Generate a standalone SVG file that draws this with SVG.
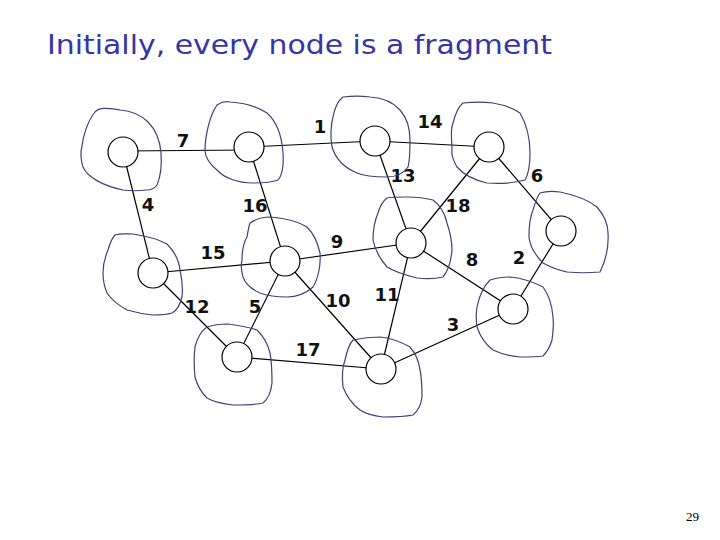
<svg xmlns="http://www.w3.org/2000/svg" width="720" height="540" viewBox="0 0 720 540">
<style>
.blob{fill:none;stroke:#40407a;stroke-width:1.2}
.nd{fill:#fff;stroke:#000;stroke-width:1.2}
.e{stroke:#000;stroke-width:1.2}
.lb{font-family:"DejaVu Sans",sans-serif;font-size:18px;font-weight:bold;fill:#111;text-anchor:middle}
.title{font-family:"DejaVu Sans",sans-serif;font-size:27px;fill:#3535a8}
.pg{font-family:"Liberation Serif",serif;font-size:13px;fill:#000}
</style>
<rect width="720" height="540" fill="#fff"/>
<text class="title" x="47" y="54" textLength="505" lengthAdjust="spacingAndGlyphs">Initially, every node is a fragment</text>
<text class="pg" x="686" y="521">29</text>
<g id="connectors">
<line class="e" x1="123" y1="151" x2="249" y2="150"/>
<line class="e" x1="249" y1="147" x2="375" y2="141"/>
<line class="e" x1="375" y1="141" x2="489" y2="147"/>
<line class="e" x1="123" y1="152" x2="153" y2="273"/>
<line class="e" x1="249" y1="147" x2="285" y2="261"/>
<line class="e" x1="375" y1="141" x2="411" y2="243"/>
<line class="e" x1="489" y1="147" x2="411" y2="243"/>
<line class="e" x1="489" y1="147" x2="561" y2="231"/>
<line class="e" x1="153" y1="273" x2="285" y2="261"/>
<line class="e" x1="285" y1="261" x2="411" y2="243"/>
<line class="e" x1="411" y1="243" x2="513" y2="309"/>
<line class="e" x1="561" y1="231" x2="513" y2="309"/>
<line class="e" x1="153" y1="273" x2="237" y2="357"/>
<line class="e" x1="285" y1="261" x2="237" y2="357"/>
<line class="e" x1="285" y1="261" x2="381" y2="369"/>
<line class="e" x1="411" y1="243" x2="381" y2="369"/>
<line class="e" x1="237" y1="357" x2="381" y2="369"/>
<line class="e" x1="381" y1="369" x2="513" y2="309"/>
</g>
<g id="edge-labels">
<text class="lb" x="183" y="147">7</text>
<text class="lb" x="320" y="133">1</text>
<text class="lb" x="430" y="128">14</text>
<text class="lb" x="148" y="211">4</text>
<text class="lb" x="255" y="212">16</text>
<text class="lb" x="403" y="182">13</text>
<text class="lb" x="458" y="212">18</text>
<text class="lb" x="537" y="182">6</text>
<text class="lb" x="213" y="259">15</text>
<text class="lb" x="337" y="248">9</text>
<text class="lb" x="472" y="266">8</text>
<text class="lb" x="519" y="264">2</text>
<text class="lb" x="197" y="313">12</text>
<text class="lb" x="255" y="313">5</text>
<text class="lb" x="338" y="307">10</text>
<text class="lb" x="308" y="356">17</text>
<text class="lb" x="387" y="301">11</text>
<text class="lb" x="453" y="331">3</text>
</g>
<g id="nA"><path class="blob" d="M95,112 C100,106 112,109 120,110 C132,111 142,116 148,122 C156,130 160,140 161,153 C162,166 160,178 157,185 C153,190 148,190 147,190 C138,191 130,191 123,190 C104,186 88,178 83,167 C80,158 81,150 82,146 C83,137 87,122 95,112 Z"/><circle class="nd" cx="123" cy="152" r="15"/></g>
<g id="nB"><path class="blob" d="M217,105 C221,102 226,101 230,102 C245,103 258,107 267,113 C277,122 282,138 283,153 C284,165 282,176 278,180 C270,183 262,183 253,183 C238,183 224,178 217,170 C209,164 205,156 205,150 C205,141 208,118 217,105 Z"/><circle class="nd" cx="249" cy="147" r="15"/></g>
<g id="nC"><path class="blob" d="M343,97 C352,96 362,96 370,97 C384,98 394,103 400,110 C407,118 410,130 410,140 C410,150 410,160 408,167 C403,174 395,177 387,177 C375,177 364,176 357,173 C345,168 336,160 332,147 C330,137 331,124 333,117 C335,106 339,100 343,97 Z"/><circle class="nd" cx="375" cy="141" r="15"/></g>
<g id="nD"><path class="blob" d="M463,103 C473,102 484,102 493,103 C504,105 513,108 520,113 C527,125 530,140 530,153 C530,165 528,175 525,180 C514,183 500,184 487,183 C474,180 463,174 457,167 C453,160 451,155 452,150 C452,140 450,130 453,123 C455,115 458,107 463,103 Z"/><circle class="nd" cx="489" cy="147" r="15"/></g>
<g id="nE"><path class="blob" d="M540,193 C546,191 553,191 560,192 C575,195 588,200 597,207 C604,215 608,225 608,233 C609,248 605,262 600,272 C589,273 578,273 567,272 C558,270 550,267 543,263 C535,255 530,246 529,237 C529,227 530,217 533,210 C535,203 537,197 540,193 Z"/><circle class="nd" cx="561" cy="231" r="15"/></g>
<g id="nF"><path class="blob" d="M387,198 C393,197 400,197 407,197 C416,197 425,198 433,200 C441,206 445,214 447,223 C450,232 452,242 452,250 C451,262 448,271 443,277 C435,279 426,279 417,278 C405,275 395,272 387,267 C380,259 375,250 373,240 C373,230 375,220 378,213 C380,206 383,201 387,198 Z"/><circle class="nd" cx="411" cy="243" r="15"/></g>
<g id="nG"><path class="blob" d="M250,223 C256,219 263,217 270,217 C284,218 297,221 307,227 C314,234 318,244 320,253 C321,265 318,279 313,287 C305,294 296,297 287,297 C277,297 268,296 260,293 C251,289 245,283 243,277 C241,270 241,264 242,260 C242,251 244,242 247,237 C248,231 249,226 250,223 Z"/><circle class="nd" cx="285" cy="261" r="15"/></g>
<g id="nH"><path class="blob" d="M115,235 C121,233 127,234 133,234 C146,236 158,239 167,244 C175,252 179,261 180,270 C182,279 183,289 182,297 C180,305 176,311 172,313 C166,315 159,315 153,315 C143,314 134,312 127,310 C118,305 111,299 107,293 C104,286 103,280 103,273 C103,265 105,257 108,250 C110,243 112,238 115,235 Z"/><circle class="nd" cx="153" cy="273" r="15"/></g>
<g id="nI"><path class="blob" d="M207,327 C213,325 220,324 227,324 C238,325 248,327 257,330 C263,336 268,344 270,353 C272,363 272,374 272,383 C271,392 268,399 263,403 C253,405 243,405 233,405 C223,404 214,402 207,398 C201,392 197,385 195,377 C194,367 194,355 195,347 C197,339 201,331 207,327 Z"/><circle class="nd" cx="237" cy="357" r="15"/></g>
<g id="nJ"><path class="blob" d="M353,340 C362,338 371,337 380,337 C391,338 401,342 410,347 C416,354 419,362 420,370 C422,379 422,388 422,397 C421,405 418,411 413,415 C403,417 393,417 383,417 C374,416 366,414 360,410 C352,404 346,395 343,387 C342,378 342,368 345,360 C347,351 349,344 353,340 Z"/><circle class="nd" cx="381" cy="369" r="15"/></g>
<g id="nK"><path class="blob" d="M490,280 C496,278 503,277 510,277 C522,278 533,282 543,287 C549,295 552,305 553,317 C554,325 553,333 552,340 C550,347 547,352 543,356 C535,357 528,357 520,357 C510,356 501,354 493,350 C485,344 480,336 477,327 C476,320 476,313 477,307 C479,297 484,286 490,280 Z"/><circle class="nd" cx="513" cy="309" r="15"/></g>
</svg>
